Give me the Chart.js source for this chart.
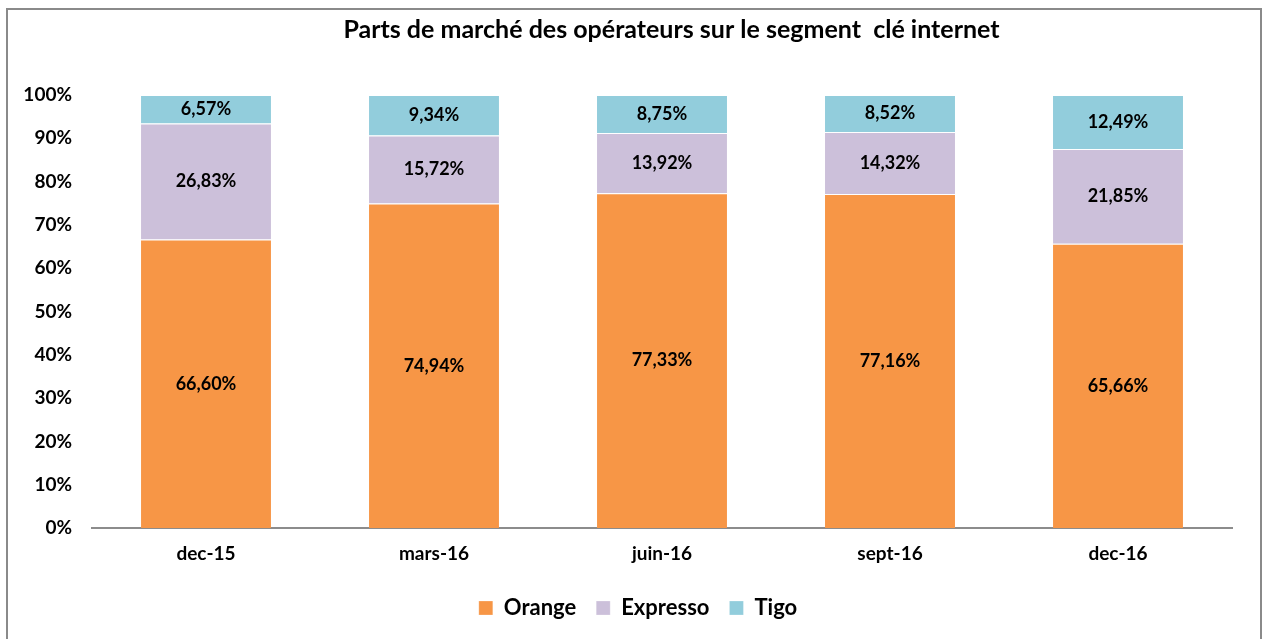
<!DOCTYPE html>
<html>
<head>
<meta charset="utf-8">
<script src="https://cdn.jsdelivr.net/npm/chart.js@4.4.1/dist/chart.umd.min.js"></script>
<style>
  html, body { margin: 0; padding: 0; background: #fff; }
  #cadre { position: absolute; left: 6px; top: 8px; width: 1252px; height: 700px; border: 2px solid #8a8a8a; pointer-events: none; }
  #zone { position: absolute; left: 0; top: 0; width: 1263px; height: 639px; }
</style>
</head>
<body>
<div id="zone"><canvas id="graphique"></canvas></div>
<div id="cadre"></div>
<script>
const periodes = ['dec-15', 'mars-16', 'juin-16', 'sept-16', 'dec-16'];
const orange = [66.60, 74.94, 77.33, 77.16, 65.66];
const expresso = [26.83, 15.72, 13.92, 14.32, 21.85];
const tigo = [6.57, 9.34, 8.75, 8.52, 12.49];
const ticksY = [0, 10, 20, 30, 40, 50, 60, 70, 80, 90, 100];
const titre = 'Parts de marché des opérateurs sur le segment  clé internet';

const police = 'Lato, "Open Sans", sans-serif';

// étiquettes au centre de chaque segment + titre décalé comme dans l'original
const etiquettes = {
    id: 'etiquettes',
    afterLayout(chart) {
        // la légende est un peu décalée vers la droite dans l'original
        chart.legend.left += 22;
        chart.legend.right += 22;
    },
    afterDatasetsDraw(chart) {
        const ctx = chart.ctx;
        ctx.save();
        ctx.font = 'bold 18px ' + police;
        ctx.fillStyle = '#000';
        ctx.textAlign = 'center';
        ctx.textBaseline = 'middle';
        chart.data.datasets.forEach((ds, i) => {
            chart.getDatasetMeta(i).data.forEach((bar, j) => {
                const y = (bar.y + bar.base) / 2;
                ctx.fillText(ds.data[j].toFixed(2).replace('.', ',') + '%', bar.x, y);
            });
        });
        ctx.font = 'bold 25px ' + police;
        ctx.fillText(titre, chart.width / 2 + 40, 30);
        ctx.restore();
    }
};

function serie(nom, valeurs, couleur) {
    return {
        label: nom,
        data: valeurs,
        backgroundColor: couleur,
        borderColor: '#ffffff',
        borderWidth: { top: 1, left: 0, right: 0, bottom: 0 },
        borderSkipped: false,
        barPercentage: 0.57,
        categoryPercentage: 1
    };
}

new Chart(document.getElementById('graphique').getContext('2d'), {
    type: 'bar',
    data: {
        labels: periodes,
        datasets: [
            serie('Orange', orange, '#F79646'),
            serie('Expresso', expresso, '#CCC0DA'),
            serie('Tigo', tigo, '#92CDDC')
        ]
    },
    options: {
        responsive: true,
        maintainAspectRatio: false,
        animation: false,
        layout: { padding: { left: 0, right: 31, top: 95, bottom: 10 } },
        scales: {
            x: {
                stacked: true,
                grid: { display: false, drawTicks: false },
                border: { display: true, color: '#8c8c8c', width: 2 },
                ticks: { color: '#000', font: { family: police, size: 19, weight: 'bold' }, padding: 14 },
                afterFit(scale) { scale.height = 49; }
            },
            y: {
                stacked: true,
                min: 0,
                max: 100,
                afterBuildTicks(scale) { scale.ticks = ticksY.map(v => ({ value: v })); },
                grid: { display: false, drawTicks: false },
                border: { display: false },
                ticks: {
                    color: '#000',
                    font: { family: police, size: 19, weight: 'bold' },
                    padding: 20,
                    callback: v => v + '%'
                },
                afterFit(scale) { scale.width = 92; }
            }
        },
        plugins: {
            title: { display: false },
            legend: {
                position: 'bottom',
                labels: {
                    color: '#000',
                    font: { family: police, size: 22, weight: 'bold' },
                    boxWidth: 14,
                    boxHeight: 14,
                    padding: 20
                }
            },
            tooltip: { enabled: false }
        }
    },
    plugins: [etiquettes]
});
</script>
</body>
</html>
